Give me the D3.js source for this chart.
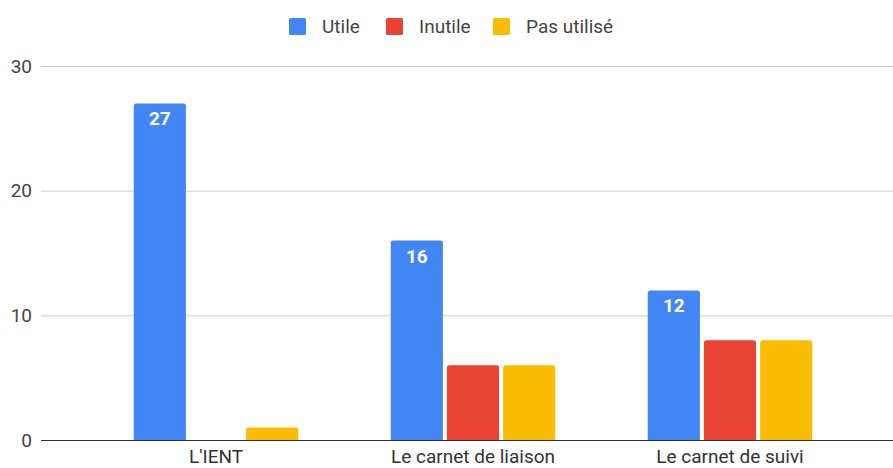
<!DOCTYPE html>
<html>
<head>
<meta charset="utf-8">
<script src="https://cdn.jsdelivr.net/npm/d3@7"></script>
<style>
  body { margin: 0; background: #fff; }
  text { font-family: Roboto, "Noto Sans", sans-serif; }
</style>
</head>
<body>
<div id="chart"></div>
<script>
// data
var categories = ["L'IENT", "Le carnet de liaison", "Le carnet de suivi"];
var seriesNames = ["Utile", "Inutile", "Pas utilisé"];
var utile = [27, 16, 12];
var inutile = [0, 6, 8];
var pasUtilise = [1, 6, 8];
var yTicks = [0, 10, 20, 30];
var colors = ["#4285f4", "#ea4335", "#fbbc04"];

var seriesValues = [utile, inutile, pasUtilise];

var W = 893, H = 468;
var svg = d3.select("#chart").append("svg")
  .attr("width", W)
  .attr("height", H);

var y = d3.scaleLinear().domain([0, 30]).range([440, 66]);

var x = d3.scaleBand()
  .domain(categories)
  .range([87.5, 858.5])
  .paddingInner(0.36)
  .paddingOuter(0.18);

var xs = d3.scaleBand()
  .domain(seriesNames)
  .range([0, x.bandwidth()])
  .paddingInner(0.072);

// gridlines
svg.append("g")
  .selectAll("line")
  .data(yTicks.filter(function (d) { return d > 0; }))
  .enter().append("line")
  .attr("x1", 41).attr("x2", W)
  .attr("y1", function (d) { return y(d) + 0.5; })
  .attr("y2", function (d) { return y(d) + 0.5; })
  .attr("stroke", "#cccccc")
  .attr("stroke-width", 1);

// y labels
svg.append("g")
  .selectAll("text")
  .data(yTicks)
  .enter().append("text")
  .attr("x", 32)
  .attr("y", function (d) { return y(d); })
  .attr("dy", "0.35em")
  .attr("text-anchor", "end")
  .style("font-size", "19px")
  .style("fill", "#444")
  .text(function (d) { return d; });

// bars with rounded top corners
function barPath(x0, w, yTop, yBase, r) {
  var h = yBase - yTop;
  if (h <= 0) return "";
  r = Math.min(r, h, w / 2);
  return "M" + x0 + "," + yBase +
    "V" + (yTop + r) +
    "Q" + x0 + "," + yTop + " " + (x0 + r) + "," + yTop +
    "H" + (x0 + w - r) +
    "Q" + (x0 + w) + "," + yTop + " " + (x0 + w) + "," + (yTop + r) +
    "V" + yBase + "Z";
}

var groups = svg.append("g")
  .selectAll("g")
  .data(categories)
  .enter().append("g")
  .attr("transform", function (d) { return "translate(" + x(d) + ",0)"; });

groups.selectAll("path")
  .data(function (c, i) {
    return seriesNames.map(function (s, j) {
      return { series: s, j: j, value: seriesValues[j][i] };
    });
  })
  .enter().append("path")
  .attr("d", function (d) {
    return barPath(xs(d.series), xs.bandwidth(), y(d.value), y(0), 2.5);
  })
  .attr("fill", function (d) { return colors[d.j]; });

// value labels on Utile bars only
groups.append("text")
  .attr("x", xs("Utile") + xs.bandwidth() / 2)
  .attr("y", function (c, i) { return y(utile[i]) + 22; })
  .attr("text-anchor", "middle")
  .style("font-size", "19px")
  .style("font-weight", "bold")
  .style("fill", "#fff")
  .text(function (c, i) { return utile[i]; });

// baseline
svg.append("line")
  .attr("x1", 41).attr("x2", W)
  .attr("y1", y(0) + 0.5).attr("y2", y(0) + 0.5)
  .attr("stroke", "#333")
  .attr("stroke-width", 1);

// x labels
svg.append("g")
  .selectAll("text")
  .data(categories)
  .enter().append("text")
  .attr("x", function (d) { return x(d) + x.bandwidth() / 2; })
  .attr("y", 463)
  .attr("text-anchor", "middle")
  .style("font-size", "19px")
  .style("fill", "#333")
  .text(function (d) { return d; });

// legend
var legendX = [289, 386, 493];
var legend = svg.append("g")
  .selectAll("g")
  .data(seriesNames)
  .enter().append("g")
  .attr("transform", function (d, i) { return "translate(" + legendX[i] + ",18)"; });

legend.append("rect")
  .attr("width", 17).attr("height", 17)
  .attr("rx", 1.5)
  .attr("fill", function (d, i) { return colors[i]; });

legend.append("text")
  .attr("x", 33)
  .attr("y", 8.5)
  .attr("dy", "0.35em")
  .style("font-size", "19px")
  .style("fill", "#444")
  .text(function (d) { return d; });
</script>
</body>
</html>
